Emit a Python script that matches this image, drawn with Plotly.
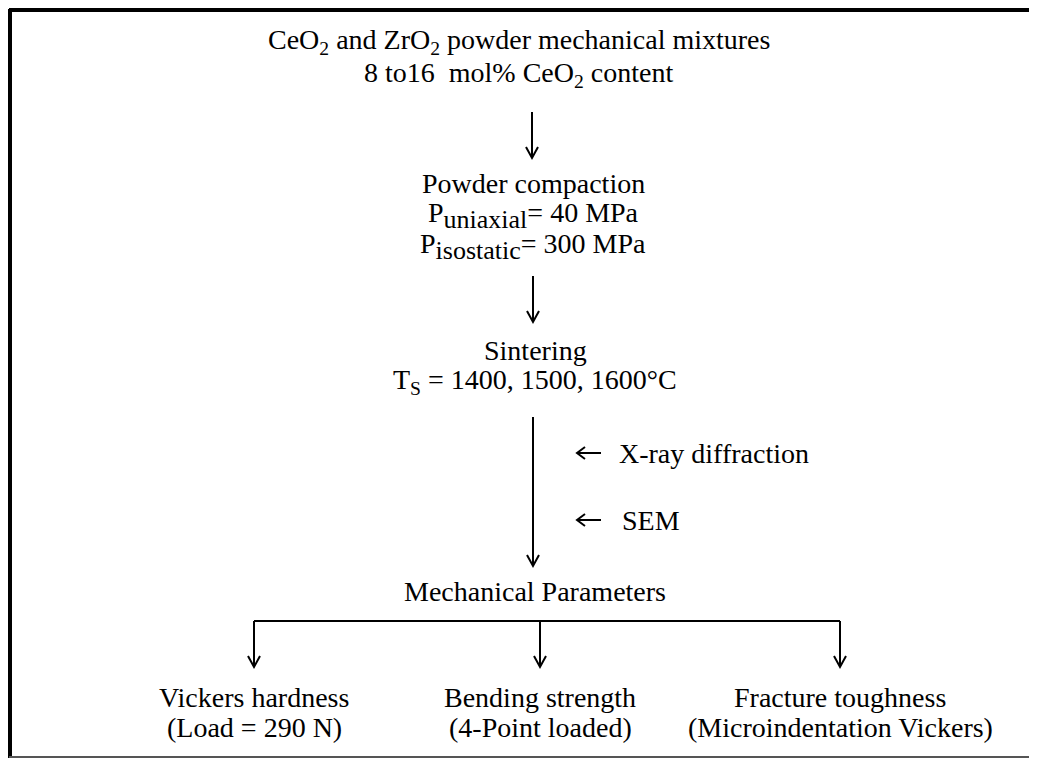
import plotly.graph_objects as go

# Flowchart content
title_lines = ["CeO<sub>2</sub> and ZrO<sub>2</sub> powder mechanical mixtures",
               "8 to16  mol% CeO<sub>2</sub> content"]
compaction_lines = ["Powder compaction",
                    "P<sub><span style='font-size:26px'>uniaxial</span></sub>= 40 MPa",
                    "P<sub><span style='font-size:26px'>isostatic</span></sub>= 300 MPa"]
sintering_lines = ["Sintering", "T<sub>S</sub> = 1400, 1500, 1600°C"]
side_labels = ["X-ray diffraction", "SEM"]
mech_label = "Mechanical Parameters"
output_titles = ["Vickers hardness", "Bending strength", "Fracture toughness"]
output_notes = ["(Load = 290 N)", "(4-Point loaded)", "(Microindentation Vickers)"]

# Layout positions (page pixels); the plot div sits 8px in from the page corner
W, H = 1037, 760
OFF = 8
cx = 533
title_x = [519, 518]
title_y = [41, 74]
comp_y = [183, 215, 246]
sint_y = [350, 381]
side_x = [617, 620]
side_y = [453, 520]
mech_y = 591
out_x = [254, 540, 840]
out_y = [697, 727]
FONT = dict(family="Liberation Serif, Times New Roman, serif", size=28, color="#000")

fig = go.Figure()
fig.add_trace(go.Scatter(x=[None], y=[None], showlegend=False))

ann = []
def txt(x, y, t, xanchor="center", font=FONT):
    ann.append(dict(x=x, y=y, text=t, showarrow=False, xanchor=xanchor,
                    yanchor="middle", font=font, xref="x", yref="y", align="center"))

for t, x, y in zip(title_lines, title_x, title_y):
    txt(x, y, t)
for t, y in zip(compaction_lines, comp_y):
    txt(cx, y, t)
for t, y in zip(sintering_lines, sint_y):
    txt(cx + 2, y, t)
for t, x, y in zip(side_labels, side_x, side_y):
    txt(x, y, t, xanchor="left")
txt(cx + 2, mech_y, mech_label)
for t1, t2, x in zip(output_titles, output_notes, out_x):
    txt(x, out_y[0], t1)
    txt(x, out_y[1], t2)

shapes = []
LINE = dict(color="#000", width=2)
def arrow_down(x, y0, y1):
    shapes.append(dict(type="line", x0=x, y0=y0, x1=x, y1=y1, line=LINE))
    shapes.append(dict(type="path",
                       path=f"M {x-6} {y1-11} L {x} {y1} L {x+6} {y1-11}",
                       line=LINE))

def arrow_left(x0, x1, y):
    shapes.append(dict(type="line", x0=x0, y0=y, x1=x1, y1=y, line=LINE))
    shapes.append(dict(type="path",
                       path=f"M {x1+8} {y-6} L {x1} {y} L {x1+8} {y+6}",
                       line=LINE))

arrow_down(cx - 1, 112, 158)
arrow_down(cx, 276, 322)
arrow_down(cx, 417, 566)
for y in side_y:
    arrow_left(601, 577, y)
# branch
shapes.append(dict(type="line", x0=out_x[0], y0=621, x1=out_x[2], y1=621, line=LINE))
for x in out_x:
    arrow_down(x, 621, 667)

# frame
shapes.append(dict(type="line", x0=9, y0=10, x1=1037, y1=10, line=dict(color="#000", width=4)))
shapes.append(dict(type="line", x0=10, y0=9, x1=10, y1=758, line=dict(color="#000", width=4)))
shapes.append(dict(type="line", x0=9, y0=757, x1=1037, y1=757, line=dict(color="#555", width=2)))
shapes.append(dict(type="line", x0=1035, y0=12, x1=1035, y1=757, line=dict(color="#e4e4e4", width=1)))

fig.update_layout(
    width=W - OFF, height=H - OFF, margin=dict(l=0, r=0, t=0, b=0),
    paper_bgcolor="white", plot_bgcolor="white",
    xaxis=dict(range=[OFF, W], visible=False, fixedrange=True),
    yaxis=dict(range=[H, OFF], visible=False, fixedrange=True),
    annotations=ann, shapes=shapes, showlegend=False,
)
fig.write_html("out.html")
